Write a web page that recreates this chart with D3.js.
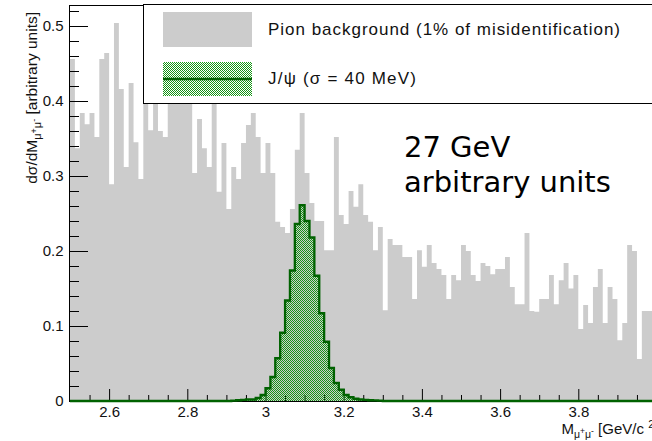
<!DOCTYPE html>
<html><head><meta charset="utf-8">
<script src="https://cdn.jsdelivr.net/npm/d3@7"></script>
<style>
html,body{margin:0;padding:0;background:#fff;overflow:hidden}
svg{display:block}
</style></head>
<body>
<svg id="c" width="652" height="441"></svg>
<script>
// ---------------- DATA ----------------
const xMin = 2.5, xMax = 4.0, nBins = 120;
const pionBackground = [
  0.456,0.337,0.384,0.369,0.384,0.352,0.456,0.464,0.289,0.504,
  0.416,0.312,0.424,0.345,0.296,0.430,0.361,0.420,0.360,0.352,
  0.440,0.410,0.450,0.420,0.430,0.304,0.376,0.337,0.312,0.410,
  0.279,0.344,0.256,0.312,0.296,0.344,0.368,0.384,0.352,0.304,
  0.344,0.304,0.239,0.232,0.224,0.256,0.335,0.384,0.304,0.264,
  0.240,0.240,0.201,0.201,0.352,0.248,0.236,0.280,0.259,0.289,
  0.248,0.239,0.201,0.232,0.121,0.216,0.208,0.208,0.192,0.192,
  0.136,0.201,0.179,0.208,0.184,0.176,0.168,0.136,0.168,0.161,
  0.208,0.200,0.168,0.160,0.184,0.180,0.169,0.176,0.176,0.192,
  0.152,0.129,0.129,0.224,0.120,0.119,0.136,0.136,0.168,0.129,
  0.161,0.184,0.150,0.168,0.096,0.128,0.104,0.152,0.176,0.104,
  0.152,0.136,0.081,0.104,0.208,0.200,0.056,0.120,0.120,0.120
];
const jpsiSignal = [
  0,0,0,0,0,0,0,0,0,0,
  0,0,0,0,0,0,0,0,0,0,
  0,0,0,0,0,0,0,0,0,0,
  0,0,0,0.0005,0.001,0.0015,0.002,0.002,0.004,0.008,
  0.017,0.032,0.057,0.091,0.134,0.174,0.236,0.261,0.240,0.218,
  0.167,0.117,0.079,0.044,0.024,0.015,0.008,0.005,0.003,0.002,
  0.0015,0.001,0.0008,0.0005,0,0,0,0,0,0,
  0,0,0,0,0,0,0,0,0,0,
  0,0,0,0,0,0,0,0,0,0,
  0,0,0,0,0,0,0,0,0,0,
  0,0,0,0,0,0,0,0,0,0,
  0,0,0,0,0,0,0,0,0,0
];
const xTickValues = [2.6, 2.8, 3.0, 3.2, 3.4, 3.6, 3.8];
const xTickLabels = ["2.6", "2.8", "3", "3.2", "3.4", "3.6", "3.8"];
const yTickValues = [0, 0.1, 0.2, 0.3, 0.4, 0.5];
const yTickLabels = ["0", "0.1", "0.2", "0.3", "0.4", "0.5"];
const legendLabels = ["Pion background (1% of misidentification)", "J/\u03C8 (\u03C3 = 40 MeV)"];
const annotationLines = ["27 GeV", "arbitrary units"];

// ---------------- LAYOUT ----------------
const frame = {left: 70, right: 656.5, top: 5, bottom: 401};
const yMax = 0.528;
const grayFill = "#cccccc", greenFill = "#169616", greenLine = "#006200";
const fontRoot = "'Liberation Sans', Arial, Helvetica, sans-serif";

const svg = d3.select("#c");
const x = d3.scaleLinear().domain([xMin, xMax]).range([frame.left, frame.right]);
const y = d3.scaleLinear().domain([0, yMax]).range([frame.bottom, frame.top]);
const binW = (xMax - xMin) / nBins;
const edges = d3.range(nBins + 1).map(i => xMin + i * binW);
function stepData(vals) {
  const d = vals.map((v, i) => ({x: edges[i], v}));
  d.push({x: edges[nBins], v: vals[nBins - 1]});
  return d;
}

const defs = svg.append("defs");
const pat = defs.append("pattern").attr("id", "dots")
  .attr("patternUnits", "userSpaceOnUse").attr("width", 2).attr("height", 2);
pat.append("rect").attr("x", 0).attr("y", 0).attr("width", 1).attr("height", 1).attr("fill", greenFill);
pat.append("rect").attr("x", 1).attr("y", 1).attr("width", 1).attr("height", 1).attr("fill", greenFill);
defs.append("clipPath").attr("id", "plotClip").append("rect")
  .attr("x", frame.left - 2).attr("y", frame.top).attr("width", frame.right - frame.left + 4).attr("height", frame.bottom - frame.top + 3);

const area = d3.area().x(d => x(d.x)).y0(y(0)).y1(d => y(d.v)).curve(d3.curveStepAfter);
const line = d3.line().x(d => x(d.x)).y(d => y(d.v)).curve(d3.curveStepAfter);

const plot = svg.append("g").attr("clip-path", "url(#plotClip)");
plot.append("path").datum(stepData(pionBackground)).attr("d", area).attr("fill", grayFill);

// ---------------- AXES ----------------
const yMinor = d3.range(0, 0.5201, 0.02).filter(v => Math.abs(v * 10 - Math.round(v * 10)) > 1e-6);
const xMinor = d3.range(2.55, 3.9601, 0.05).filter(v => Math.abs(v * 5 - Math.round(v * 5)) > 1e-6);

const gy = svg.append("g").attr("transform", `translate(${frame.left - 1},0)`);
gy.call(d3.axisLeft(y).tickValues(yTickValues).tickFormat((d, i) => yTickLabels[i])
  .tickSize(-19).tickSizeOuter(0).tickPadding(5.5));
const gy2 = svg.append("g").attr("transform", `translate(${frame.left - 1},0)`);
gy2.call(d3.axisLeft(y).tickValues(yMinor).tickFormat("").tickSize(-10).tickSizeOuter(0));
gy2.select(".domain").remove();

const gx = svg.append("g").attr("transform", `translate(0,${frame.bottom})`);
gx.call(d3.axisBottom(x).tickValues(xTickValues).tickFormat((d, i) => xTickLabels[i])
  .tickSize(-12).tickSizeOuter(0).tickPadding(5.4));
const gx2 = svg.append("g").attr("transform", `translate(0,${frame.bottom})`);
gx2.call(d3.axisBottom(x).tickValues(xMinor).tickFormat("").tickSize(-6).tickSizeOuter(0));
gx2.select(".domain").remove();

[gy, gx].forEach(g => g.selectAll("text").attr("font-family", fontRoot).attr("font-size", 15).attr("fill", "#111"));
[gy, gy2, gx, gx2].forEach(g => g.selectAll("line,path").attr("stroke", "#000"));

// top frame line
svg.append("line").attr("x1", frame.left - 1).attr("x2", frame.right).attr("y1", frame.top + 0.5).attr("y2", frame.top + 0.5)
  .attr("stroke", "#000");

// ---------------- J/psi ----------------
const jp = svg.append("g").attr("clip-path", "url(#plotClip)");
jp.append("path").datum(stepData(jpsiSignal)).attr("d", area).attr("fill", "url(#dots)");
jp.append("path").datum(stepData(jpsiSignal)).attr("d", line).attr("fill", "none")
  .attr("stroke", greenLine).attr("stroke-width", 2.3);

// ---------------- LEGEND ----------------
const lg = svg.append("g");
lg.append("rect").attr("x", 143.5).attr("y", 4.5).attr("width", 540).attr("height", 99)
  .attr("fill", "#fff").attr("stroke", "#000").attr("stroke-width", 1);
lg.append("rect").attr("x", 163).attr("y", 12).attr("width", 89).attr("height", 35).attr("fill", grayFill);
lg.append("rect").attr("x", 163).attr("y", 62).attr("width", 89).attr("height", 34).attr("fill", "url(#dots)");
lg.append("line").attr("x1", 163).attr("x2", 252).attr("y1", 79).attr("y2", 79)
  .attr("stroke", greenLine).attr("stroke-width", 2.5);
lg.append("text").attr("x", 268).attr("y", 35).text(legendLabels[0])
  .attr("font-family", fontRoot).attr("font-size", 17).attr("fill", "#111")
  .attr("textLength", 352).attr("lengthAdjust", "spacing");
lg.append("text").attr("x", 268).attr("y", 84).text(legendLabels[1])
  .attr("font-family", fontRoot).attr("font-size", 17).attr("fill", "#111")
  .attr("textLength", 148).attr("lengthAdjust", "spacing");

// ---------------- ANNOTATION ----------------
annotationLines.forEach((t, i) => {
  svg.append("text").attr("x", 404).attr("y", 157 + i * 35).text(t)
    .attr("font-family", "'DejaVu Sans', sans-serif").attr("font-size", 29).attr("fill", "#000");
});

// ---------------- AXIS TITLES ----------------
const yt = svg.append("text").attr("transform", "translate(36.5,12) rotate(-90)")
  .attr("text-anchor", "end").attr("font-family", fontRoot).attr("font-size", 15.5).attr("fill", "#111");
yt.append("tspan").text("d\u03C3/dM");
yt.append("tspan").attr("font-size", 11).attr("dy", 4).text("\u03BC");
yt.append("tspan").attr("font-size", 9).attr("dy", -4).text("+");
yt.append("tspan").attr("font-size", 11).attr("dy", 4).text("\u03BC");
yt.append("tspan").attr("font-size", 9).attr("dy", -4).text("-");
yt.append("tspan").text(" [arbitrary units]");

const xt = svg.append("text").attr("x", 561.5).attr("y", 434)
  .attr("font-family", fontRoot).attr("font-size", 15).attr("fill", "#111");
xt.append("tspan").text("M");
xt.append("tspan").attr("font-size", 10.5).attr("dy", 4).text("\u03BC");
xt.append("tspan").attr("font-size", 8.5).attr("dy", -4).text("+");
xt.append("tspan").attr("font-size", 10.5).attr("dy", 4).text("\u03BC");
xt.append("tspan").attr("font-size", 8.5).attr("dy", -4).text("-");
xt.append("tspan").text(" [GeV/c ");
xt.append("tspan").attr("font-size", 11).attr("dy", -6).text("2");
xt.append("tspan").attr("dy", 6).text("]");
</script>
</body></html>
